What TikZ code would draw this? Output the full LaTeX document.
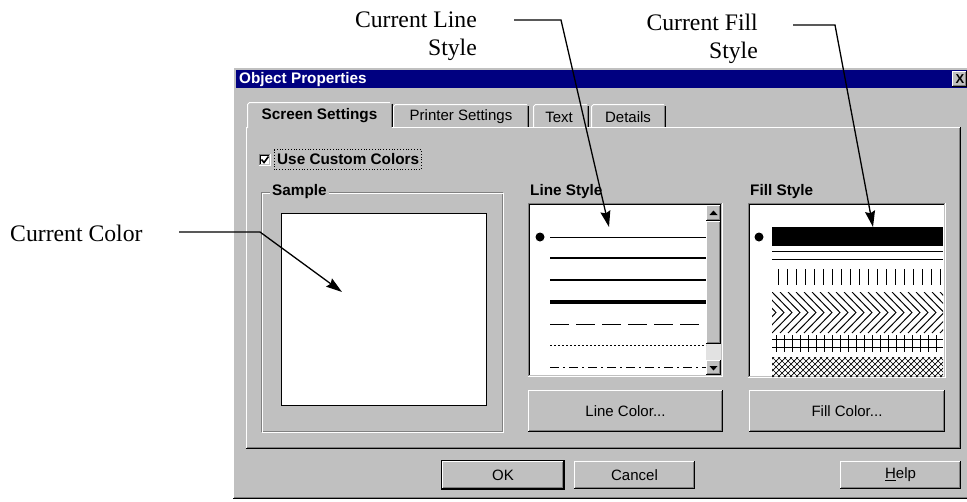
\documentclass[tikz,border=0pt]{standalone}
\usepackage{fontspec}
\setmainfont{Liberation Serif}
\setsansfont{Liberation Sans}
\usepackage{xcolor}
\usetikzlibrary{arrows.meta, positioning}

\definecolor{winface}{RGB}{192,192,192}
\definecolor{winshadow}{RGB}{128,128,128}
\definecolor{wintitle}{RGB}{0,0,128}
\definecolor{wintrack}{RGB}{226,226,226}

% raised 3D box: x1 y1 x2 y2
\newcommand{\winraised}[4]{%
  \fill[winface] (#1,#2) rectangle (#3,#4);
  \draw[white, line width=1pt] (#1+0.5,#4-1) -- (#1+0.5,#2+0.5) -- (#3-1,#2+0.5);
  \draw[winshadow, line width=1pt] (#1+1,#4-1.5) -- (#3-1.5,#4-1.5) -- (#3-1.5,#2+1);
  \draw[black, line width=1pt] (#1,#4-0.5) -- (#3-0.5,#4-0.5) -- (#3-0.5,#2);
}
% sunken box: x1 y1 x2 y2 fill
\newcommand{\winsunken}[5]{%
  \fill[#5] (#1,#2) rectangle (#3,#4);
  \draw[winshadow, line width=1pt] (#1+0.5,#4-1) -- (#1+0.5,#2+0.5) -- (#3-1,#2+0.5);
  \draw[black, line width=1pt] (#1+1.5,#4-2) -- (#1+1.5,#2+1.5) -- (#3-2,#2+1.5);
  \draw[white, line width=1pt] (#1,#4-0.5) -- (#3-0.5,#4-0.5) -- (#3-0.5,#2);
  \draw[winface, line width=1pt] (#1+1,#4-1.5) -- (#3-1.5,#4-1.5) -- (#3-1.5,#2+1);
}

\begin{document}
\begin{tikzpicture}[x=1pt, y=-1pt, >=Stealth,
    note/.style={font=\fontsize{23.7}{27.5}\selectfont, inner sep=0pt},
    uibold/.style={font=\sffamily\bfseries\fontsize{15.3}{17}\selectfont, inner sep=0pt},
    uitext/.style={font=\sffamily\fontsize{15}{17}\selectfont, inner sep=0pt},
    pointer/.style={-{Stealth[length=16pt, width=10pt, inset=2pt]}, line width=1.3pt},
    patline/.style={line width=1pt}]
  \useasboundingbox (0,0) rectangle (967,501);
  \clip (0,0) rectangle (967,501);
  \fill[white] (0,0) rectangle (967,501);

  % dialog frame and title bar
  \winraised{233}{67}{975}{499}
  \fill[wintitle] (236,70) rectangle (975,88);
  \node[uibold, white, anchor=west] (title) at (239,79.5) {Object Properties};
  \winraised{952}{71}{967}{87}
  \node[font=\sffamily\bfseries\fontsize{13}{14}\selectfont, inner sep=0pt] (close) at (960,79) {X};

  % tab panel
  \fill[winface] (246,127) rectangle (961,449);
  \draw[white, line width=1pt] (246.5,449) -- (246.5,127.5) -- (961,127.5);
  \draw[winshadow, line width=1pt] (247,447.5) -- (959.5,447.5) -- (959.5,128);
  \draw[black, line width=1pt] (246,448.5) -- (960.5,448.5) -- (960.5,127);

  % tabs
  \foreach \l/\r in {393/529, 533/589, 591/666} {
    \draw[white, line width=1pt] (\l+0.5,127) -- (\l+0.5,106.5) -- (\l+2.5,104.5) -- (\r-2,104.5);
    \draw[winshadow, line width=1pt] (\r-1.5,106) -- (\r-1.5,127);
    \draw[black, line width=1pt] (\r-0.5,106) -- (\r-0.5,127);
  }
  \fill[winface] (247,102) rectangle (392,129);
  \draw[white, line width=1pt] (247.5,128) -- (247.5,104.5) -- (249.5,102.5) -- (390,102.5);
  \draw[winshadow, line width=1pt] (391.5,104) -- (391.5,127);
  \draw[black, line width=1pt] (392.5,103.5) -- (392.5,127);
  \node[uibold] (tabscreen) at (319.5,116) {Screen Settings};
  \node[uitext] (tabprinter) at (461,117) {Printer Settings};
  \node[uitext] (tabtext) at (559,117) {Text};
  \node[uitext] (tabdetails) at (628,117) {Details};

  % check box
  \winsunken{259}{154}{271}{166}{white}
  \draw[line width=1.6pt] (261.5,159.5) -- (264,162.5) -- (268.5,156.5);
  \node[uibold, anchor=west] (custom) at (277,159.5) {Use Custom Colors};
  \draw[dotted, line width=0.8pt] (274,149.5) rectangle (421,169.5);

  % sample group
  \draw[winshadow, line width=1pt] (261.5,192.5) rectangle (502.5,431.5);
  \draw[white, line width=1pt] (262.5,193.5) rectangle (503.5,432.5);
  \node[uibold, anchor=west, fill=winface, inner xsep=2pt] (sample) at (270,192) {Sample};
  \filldraw[fill=white, draw=black, line width=1pt] (281.5,213.5) rectangle (486.5,405.5);

  % line style list
  \node[uibold, anchor=west] (linelabel) at (530,192) {Line Style};
  \winsunken{528}{203}{723}{377}{white}
  \fill[wintrack] (706,344) rectangle (721,360);
  \winraised{706}{205}{721}{221}
  \winraised{706}{221}{721}{344}
  \winraised{706}{360}{721}{375}
  \fill (709.5,215) -- (717.5,215) -- (713.5,210.5) -- cycle;
  \fill (709.5,366) -- (717.5,366) -- (713.5,370.5) -- cycle;
  \fill (540,237) circle (4.5);
  \draw[line width=1pt] (550,237) -- (706,237);
  \draw[line width=1.6pt] (550,258) -- (706,258);
  \draw[line width=2.6pt] (550,280) -- (706,280);
  \draw[line width=3.6pt] (550,302) -- (706,302);
  \draw[line width=1pt, dash pattern=on 19pt off 7pt] (550,324) -- (702,324);
  \draw[line width=1pt, dash pattern=on 2pt off 2pt] (550,345) -- (706,345);
  \draw[line width=1pt, dash pattern=on 9pt off 4pt on 2pt off 4pt] (550,367) -- (706,367);

  % fill style list
  \node[uibold, anchor=west] (filllabel) at (750,192) {Fill Style};
  \winsunken{748}{203}{946}{378}{white}
  \fill (759,237) circle (4.5);
  \fill (772,227) rectangle (943,246);
  \draw[patline] (772,251) -- (943,251);
  \draw[patline] (772,259) -- (943,259);
  \foreach \i in {0,...,18}
    \draw[patline] (778+\i*9,269) -- ++(0,16);
  \begin{scope}
    \clip (772,292) rectangle (943,333);
    \foreach \x in {756,764,...,948}
      \draw[patline] (\x,292) -- (\x+20,312.5) -- (\x,333);
  \end{scope}
  \draw[patline] (772,339) -- (943,339);
  \draw[patline] (772,347) -- (943,347);
  \foreach \x in {776,784,...,940}
    \draw[patline] (\x,335) -- (\x,352);
  \begin{scope}
    \clip (772,357) rectangle (943,377);
    \foreach \x in {736,742,...,948} {
      \draw[line width=0.7pt] (\x,357) -- ++(20,20);
      \draw[line width=0.7pt] (\x+20,357) -- ++(-20,20);
    }
  \end{scope}

  % buttons
  \winraised{528}{390}{723}{432}
  \node[uitext] (linecolor) at (625.5,411) {Line Color...};
  \winraised{749}{390}{945}{432}
  \node[uitext] (fillcolor) at (847,411) {Fill Color...};
  \draw[black, line width=1pt] (441.5,460.5) rectangle (564.5,489.5);
  \winraised{442}{461}{564}{489}
  \node[uitext] (ok) at (503,475) {OK};
  \winraised{574}{461}{695}{489}
  \node[uitext] (cancel) at (634.5,475) {Cancel};
  \winraised{840}{461}{961}{489}
  \node[uitext] (help) at (900.5,475) {\underline{H}elp};

  % annotations
  \node[note, anchor=west] (curcolor) at (10,233) {Current Color};
  \node[note, anchor=north east, align=right] (curline) at (477,12) {Current Line\\Style};
  \node[note, anchor=north east, align=right] (curfill) at (758,14) {Current Fill\\Style};
  \coordinate (colorstart) at (179,232);
  \coordinate (colorbend) at (260,232);
  \coordinate (colortip) at (342,292);
  \coordinate (linestart) at (514,20);
  \coordinate (linebend) at (561,20);
  \coordinate (linetip) at (609,227);
  \coordinate (fillstart) at (793,25);
  \coordinate (fillbend) at (835,25);
  \coordinate (filltip) at (873,227);
  \draw[pointer] (colorstart) -- (colorbend) -- (colortip);
  \draw[pointer] (linestart) -- (linebend) -- (linetip);
  \draw[pointer] (fillstart) -- (fillbend) -- (filltip);
\end{tikzpicture}
\end{document}
